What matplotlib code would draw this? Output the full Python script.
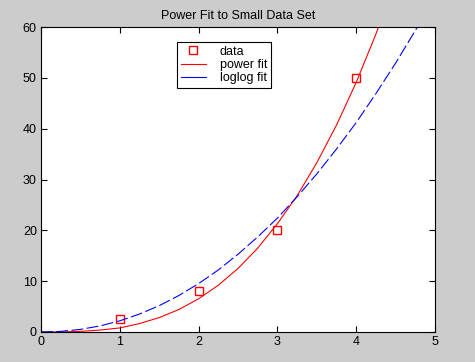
import numpy as np
import matplotlib
matplotlib.use('Agg')
import matplotlib.pyplot as plt
from matplotlib.lines import Line2D

# data points
x_data = [1, 2, 3, 4]
y_data = [2.5, 8, 20, 50]

# power fit curve
x_pow = [0, 0.25, 0.5, 0.75, 1, 1.25, 1.5, 1.75, 2, 2.25, 2.5, 2.75, 3,
         3.25, 3.5, 3.75, 4, 4.25, 4.5]
y_pow = [0, 0.015, 0.12, 0.38, 0.8, 1.66, 2.83, 4.43, 6.53, 9.2, 12.5, 16.5, 21.3,
         26.8, 33.3, 40.7, 49.1, 58.6, 69.2]

# loglog fit curve
x_log = [0, 0.25, 0.5, 0.75, 1, 1.25, 1.5, 1.75, 2, 2.25, 2.5, 2.75, 3,
         3.25, 3.5, 3.75, 4, 4.25, 4.5, 4.75, 5]
y_log = [0, 0.12, 0.51, 1.2, 2.2, 3.53, 5.18, 7.18, 9.52, 12.2, 15.3, 18.7, 22.4,
         26.6, 31.1, 36.0, 41.2, 46.9, 52.9, 59.3, 66.1]

x_ticks = [0, 1, 2, 3, 4, 5]
y_ticks = [0, 10, 20, 30, 40, 50, 60]

plt.rcParams['font.family'] = ['Liberation Sans', 'DejaVu Sans']
plt.rcParams['font.size'] = 9
plt.rcParams['lines.scale_dashes'] = False

fig = plt.figure(figsize=(4.75, 3.62), dpi=100, facecolor='#cccccc')
ax = fig.add_axes([41/475, 30/362, 394/475, 305/362])
ax.set_facecolor('white')

ax.plot(x_data, y_data, 's', color='red', markerfacecolor='none',
        markersize=5.5, markeredgewidth=1)
ax.plot(x_pow, y_pow, '-', color='red', linewidth=0.8)
ax.plot(x_log, y_log, '-', color='blue', linewidth=0.8, dashes=(8.5, 2.5))

ax.set_xlim(0, 5)
ax.set_ylim(0, 60)
ax.set_xticks(x_ticks)
ax.set_yticks(y_ticks)
ax.tick_params(direction='in', length=4, width=0.8, top=True, right=True,
               labelsize=9, colors='black', pad=3)
for s in ax.spines.values():
    s.set_linewidth(0.8)
ax.set_title('Power Fit to Small Data Set', fontsize=9, pad=6)

handles = [
    Line2D([], [], marker='s', linestyle='none', color='red', markerfacecolor='none',
           markersize=5.5, markeredgewidth=1),
    Line2D([], [], color='red', linewidth=0.8),
    Line2D([], [], color='blue', linewidth=0.8),
]
leg = ax.legend(handles, ['data', 'power fit', 'loglog fit'],
                loc='upper left', bbox_to_anchor=(136/394, 1 - 15/305),
                fancybox=False, edgecolor='black', framealpha=1,
                fontsize=9, handlelength=2.0, borderpad=0.3, labelspacing=0.1,
                handletextpad=1.1, borderaxespad=0)
leg.get_frame().set_linewidth(0.8)

fig.savefig('out.png', dpi=100, facecolor=fig.get_facecolor())
